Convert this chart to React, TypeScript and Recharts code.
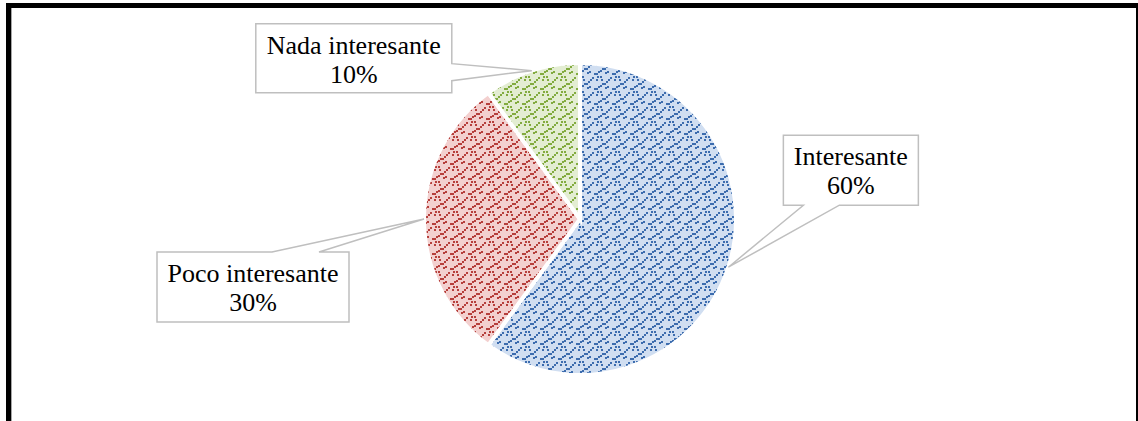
import React from "react";
import { PieChart, Pie, Cell } from "recharts";

const categories = ["Interesante", "Poco interesante", "Nada interesante"];
const percentages = [60, 30, 10];

const data = categories.map((name, i) => ({ name, value: percentages[i] }));

// fondo claro + color de los puntos de la trama
const PATTERNS = [
  { id: "pat-blue", bg: "#d0def1", dot: "#3c6cae" },
  { id: "pat-red", bg: "#f3d0cf", dot: "#b63f3c" },
  { id: "pat-green", bg: "#e3edd2", dot: "#82ab3f" },
];

// puntos de la trama (escalera diagonal + grupito)
const DOTS = [
  [0, 13], [2, 13], [4, 11], [6, 10], [8, 8], [10, 8], [12, 6], [14, 4], [16, 2],
  [3, 1], [6, 1], [2, 4], [7, 4], [11, 12], [13, 11],
];

// posición de cada recuadro respecto a la punta (punto medio del borde)
const CALLOUTS = [
  { dx: 55, dy: -132, w: 135, h: 70, side: "bottom", p1: 20, p2: 56 },
  { dx: -267, dy: 33, w: 192, h: 70, side: "top", p1: 115, p2: 162 },
  { dx: -276, dy: -47, w: 196, h: 69, side: "right", p1: 40, p2: 57 },
];

const RADIAN = Math.PI / 180;
const FONT = "Liberation Serif, Times New Roman, serif";

function calloutPath(x0: number, y0: number, w: number, h: number, side: string, p1: number, p2: number, tx: number, ty: number) {
  const x1 = x0 + w;
  const y1 = y0 + h;
  if (side === "bottom") {
    return `M${x0},${y0} L${x1},${y0} L${x1},${y1} L${x0 + p2},${y1} L${tx},${ty} L${x0 + p1},${y1} L${x0},${y1} Z`;
  }
  if (side === "top") {
    return `M${x0},${y0} L${x0 + p1},${y0} L${tx},${ty} L${x0 + p2},${y0} L${x1},${y0} L${x1},${y1} L${x0},${y1} Z`;
  }
  return `M${x0},${y0} L${x1},${y0} L${x1},${y0 + p1} L${tx},${ty} L${x1},${y0 + p2} L${x1},${y1} L${x0},${y1} Z`;
}

const renderLabel = (props: any) => {
  const { cx, cy, midAngle, outerRadius, index, name, value } = props;
  const tx = cx + outerRadius * Math.cos(-midAngle * RADIAN);
  const ty = cy + outerRadius * Math.sin(-midAngle * RADIAN);
  const c = CALLOUTS[index];
  const x0 = tx + c.dx;
  const y0 = ty + c.dy;
  const mx = x0 + c.w / 2;
  return (
    <g key={`lbl-${index}`}>
      <path
        d={calloutPath(x0, y0, c.w, c.h, c.side, c.p1, c.p2, tx, ty)}
        fill="#ffffff"
        stroke="#bfbfbf"
        strokeWidth={1.5}
      />
      <text x={mx} y={y0 + 30} textAnchor="middle" style={{ fontFamily: FONT, fontSize: 26 }} fill="#000">
        {name}
      </text>
      <text x={mx} y={y0 + 59} textAnchor="middle" style={{ fontFamily: FONT, fontSize: 26 }} fill="#000">
        {`${value}%`}
      </text>
    </g>
  );
};

export default function App() {
  return (
    <div
      style={{
        position: "absolute",
        left: 0,
        top: 0,
        width: 1138,
        height: 421,
        background: "#fff",
        overflow: "hidden",
      }}
    >
      <svg width={0} height={0} style={{ position: "absolute" }}>
        <defs>
          {PATTERNS.map((p) => (
            <pattern key={p.id} id={p.id} width={18} height={15} patternUnits="userSpaceOnUse">
              <rect width={18} height={15} fill={p.bg} />
              {DOTS.map(([x, y], i) => (
                <rect key={i} x={x} y={y} width={2} height={2} fill={p.dot} />
              ))}
            </pattern>
          ))}
        </defs>
      </svg>
      <div
        style={{
          position: "absolute",
          left: 6,
          top: 3,
          width: 1125,
          height: 430,
          borderLeft: "5px solid #000",
          borderTop: "5px solid #000",
          borderRight: "2px solid #000",
          boxShadow: "inset 1px 0 0 #a6a6a6",
        }}
      />
      <div style={{ position: "absolute", left: 0, top: 0 }}>
        <PieChart width={1138} height={421}>
          <Pie
            data={data}
            dataKey="value"
            nameKey="name"
            cx={575}
            cy={214}
            outerRadius={156}
            startAngle={90}
            endAngle={-270}
            stroke="#ffffff"
            strokeWidth={4}
            label={renderLabel}
            labelLine={false}
            isAnimationActive={false}
          >
            {data.map((d, i) => (
              <Cell key={d.name} fill={`url(#${PATTERNS[i].id})`} />
            ))}
          </Pie>
        </PieChart>
      </div>
    </div>
  );
}
